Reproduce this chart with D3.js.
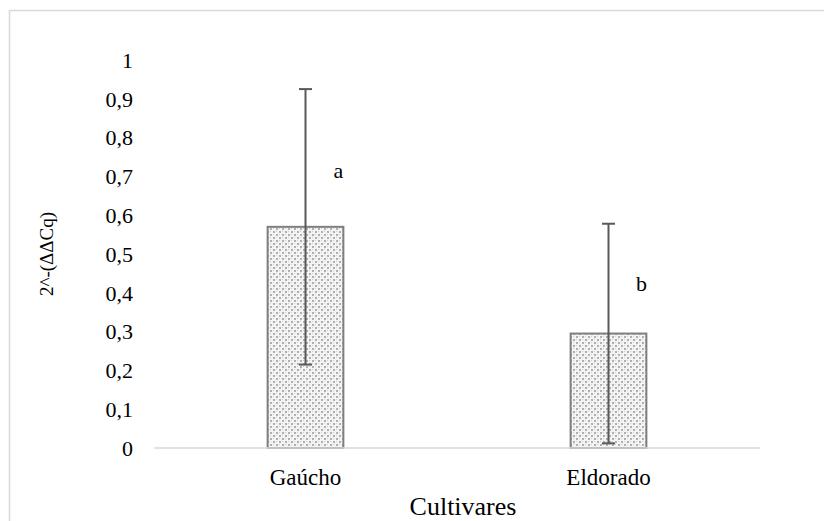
<!DOCTYPE html>
<html>
<head>
<meta charset="utf-8">
<script src="https://cdn.jsdelivr.net/npm/d3@7"></script>
<style>
  body { margin: 0; background: #fff; }
</style>
</head>
<body>
<div id="chart"></div>
<script>
const categories = ["Gaúcho", "Eldorado"];
const values = [0.57, 0.295];
const errors = [0.355, 0.283];
const letters = ["a", "b"];
const letterAt = [0.715, 0.425];
const yTicks = [0, 0.1, 0.2, 0.3, 0.4, 0.5, 0.6, 0.7, 0.8, 0.9, 1];

const width = 824, height = 521;
const margin = { top: 60, right: 64, bottom: 73, left: 154 };

const svg = d3.select("#chart")
  .append("svg")
  .attr("width", width)
  .attr("height", height)
  .style("font-family", "'Liberation Serif'");

// chart area frame
svg.append("rect")
  .attr("x", 9.5).attr("y", 10.5)
  .attr("width", width + 20).attr("height", height + 20)
  .attr("fill", "none")
  .attr("stroke", "#d9d9d9")
  .attr("stroke-width", 1.5);

// dotted fill like the excel pattern
const pat = svg.append("defs").append("pattern")
  .attr("id", "dots")
  .attr("patternUnits", "userSpaceOnUse")
  .attr("width", 6).attr("height", 6);
pat.append("rect").attr("width", 6).attr("height", 6).attr("fill", "#f4f4f4");
pat.append("rect").attr("x", 0).attr("y", 0).attr("width", 2).attr("height", 2).attr("fill", "#b0b0b0");
pat.append("rect").attr("x", 3).attr("y", 3).attr("width", 2).attr("height", 2).attr("fill", "#b0b0b0");
pat.append("rect").attr("x", 3).attr("y", 0).attr("width", 1).attr("height", 1).attr("fill", "#d0d0d0");
pat.append("rect").attr("x", 0).attr("y", 3).attr("width", 1).attr("height", 1).attr("fill", "#d0d0d0");

const x = d3.scaleBand()
  .domain(categories)
  .range([margin.left, width - margin.right])
  .paddingInner(0.75)
  .paddingOuter(0.375);

const y = d3.scaleLinear()
  .domain([0, 1])
  .range([height - margin.bottom, margin.top]);

// y tick labels (no axis line)
svg.selectAll(".ytick")
  .data(yTicks)
  .enter().append("text")
  .attr("class", "ytick")
  .attr("x", 133)
  .attr("y", d => y(d))
  .attr("dy", "0.35em")
  .attr("text-anchor", "end")
  .style("font-size", "22px")
  .text(d => d3.format(".1~f")(d).replace(".", ","));

// bars
svg.selectAll(".bar")
  .data(values)
  .enter().append("rect")
  .attr("class", "bar")
  .attr("x", (d, i) => x(categories[i]))
  .attr("y", d => y(d))
  .attr("width", x.bandwidth())
  .attr("height", d => y(0) - y(d))
  .attr("fill", "url(#dots)")
  .attr("stroke", "#7f7f7f")
  .attr("stroke-width", 2);

// x axis line
svg.append("line")
  .attr("x1", margin.left).attr("x2", width - margin.right)
  .attr("y1", y(0)).attr("y2", y(0))
  .attr("stroke", "#d9d9d9")
  .attr("stroke-width", 1.5);

// error bars
const cx = i => x(categories[i]) + x.bandwidth() / 2;
const err = svg.selectAll(".err")
  .data(values)
  .enter().append("g")
  .attr("class", "err")
  .attr("stroke", "#595959")
  .attr("stroke-width", 2);
err.append("line")
  .attr("x1", (d, i) => cx(i)).attr("x2", (d, i) => cx(i))
  .attr("y1", (d, i) => y(d + errors[i]))
  .attr("y2", (d, i) => y(d - errors[i]));
err.append("line")
  .attr("x1", (d, i) => cx(i) - 6.5).attr("x2", (d, i) => cx(i) + 6.5)
  .attr("y1", (d, i) => y(d + errors[i]))
  .attr("y2", (d, i) => y(d + errors[i]));
err.append("line")
  .attr("x1", (d, i) => cx(i) - 6.5).attr("x2", (d, i) => cx(i) + 6.5)
  .attr("y1", (d, i) => y(d - errors[i]))
  .attr("y2", (d, i) => y(d - errors[i]));

// significance letters
svg.selectAll(".letter")
  .data(letters)
  .enter().append("text")
  .attr("class", "letter")
  .attr("x", (d, i) => cx(i) + 33)
  .attr("y", (d, i) => y(letterAt[i]))
  .attr("dy", "0.35em")
  .attr("text-anchor", "middle")
  .style("font-size", "22px")
  .text(d => d);

// category labels
svg.selectAll(".cat")
  .data(categories)
  .enter().append("text")
  .attr("class", "cat")
  .attr("x", d => x(d) + x.bandwidth() / 2)
  .attr("y", 477)
  .attr("dy", "0.35em")
  .attr("text-anchor", "middle")
  .style("font-size", "23px")
  .text(d => d);

svg.append("text")
  .attr("x", (margin.left + width - margin.right) / 2 + 6)
  .attr("y", 506)
  .attr("dy", "0.35em")
  .attr("text-anchor", "middle")
  .style("font-size", "26px")
  .text("Cultivares");

svg.append("text")
  .attr("transform", `translate(46, ${y(0.5)}) rotate(-90)`)
  .attr("dy", "0.35em")
  .attr("text-anchor", "middle")
  .style("font-size", "19px")
  .text("2^-(ΔΔCq)");
</script>
</body>
</html>
